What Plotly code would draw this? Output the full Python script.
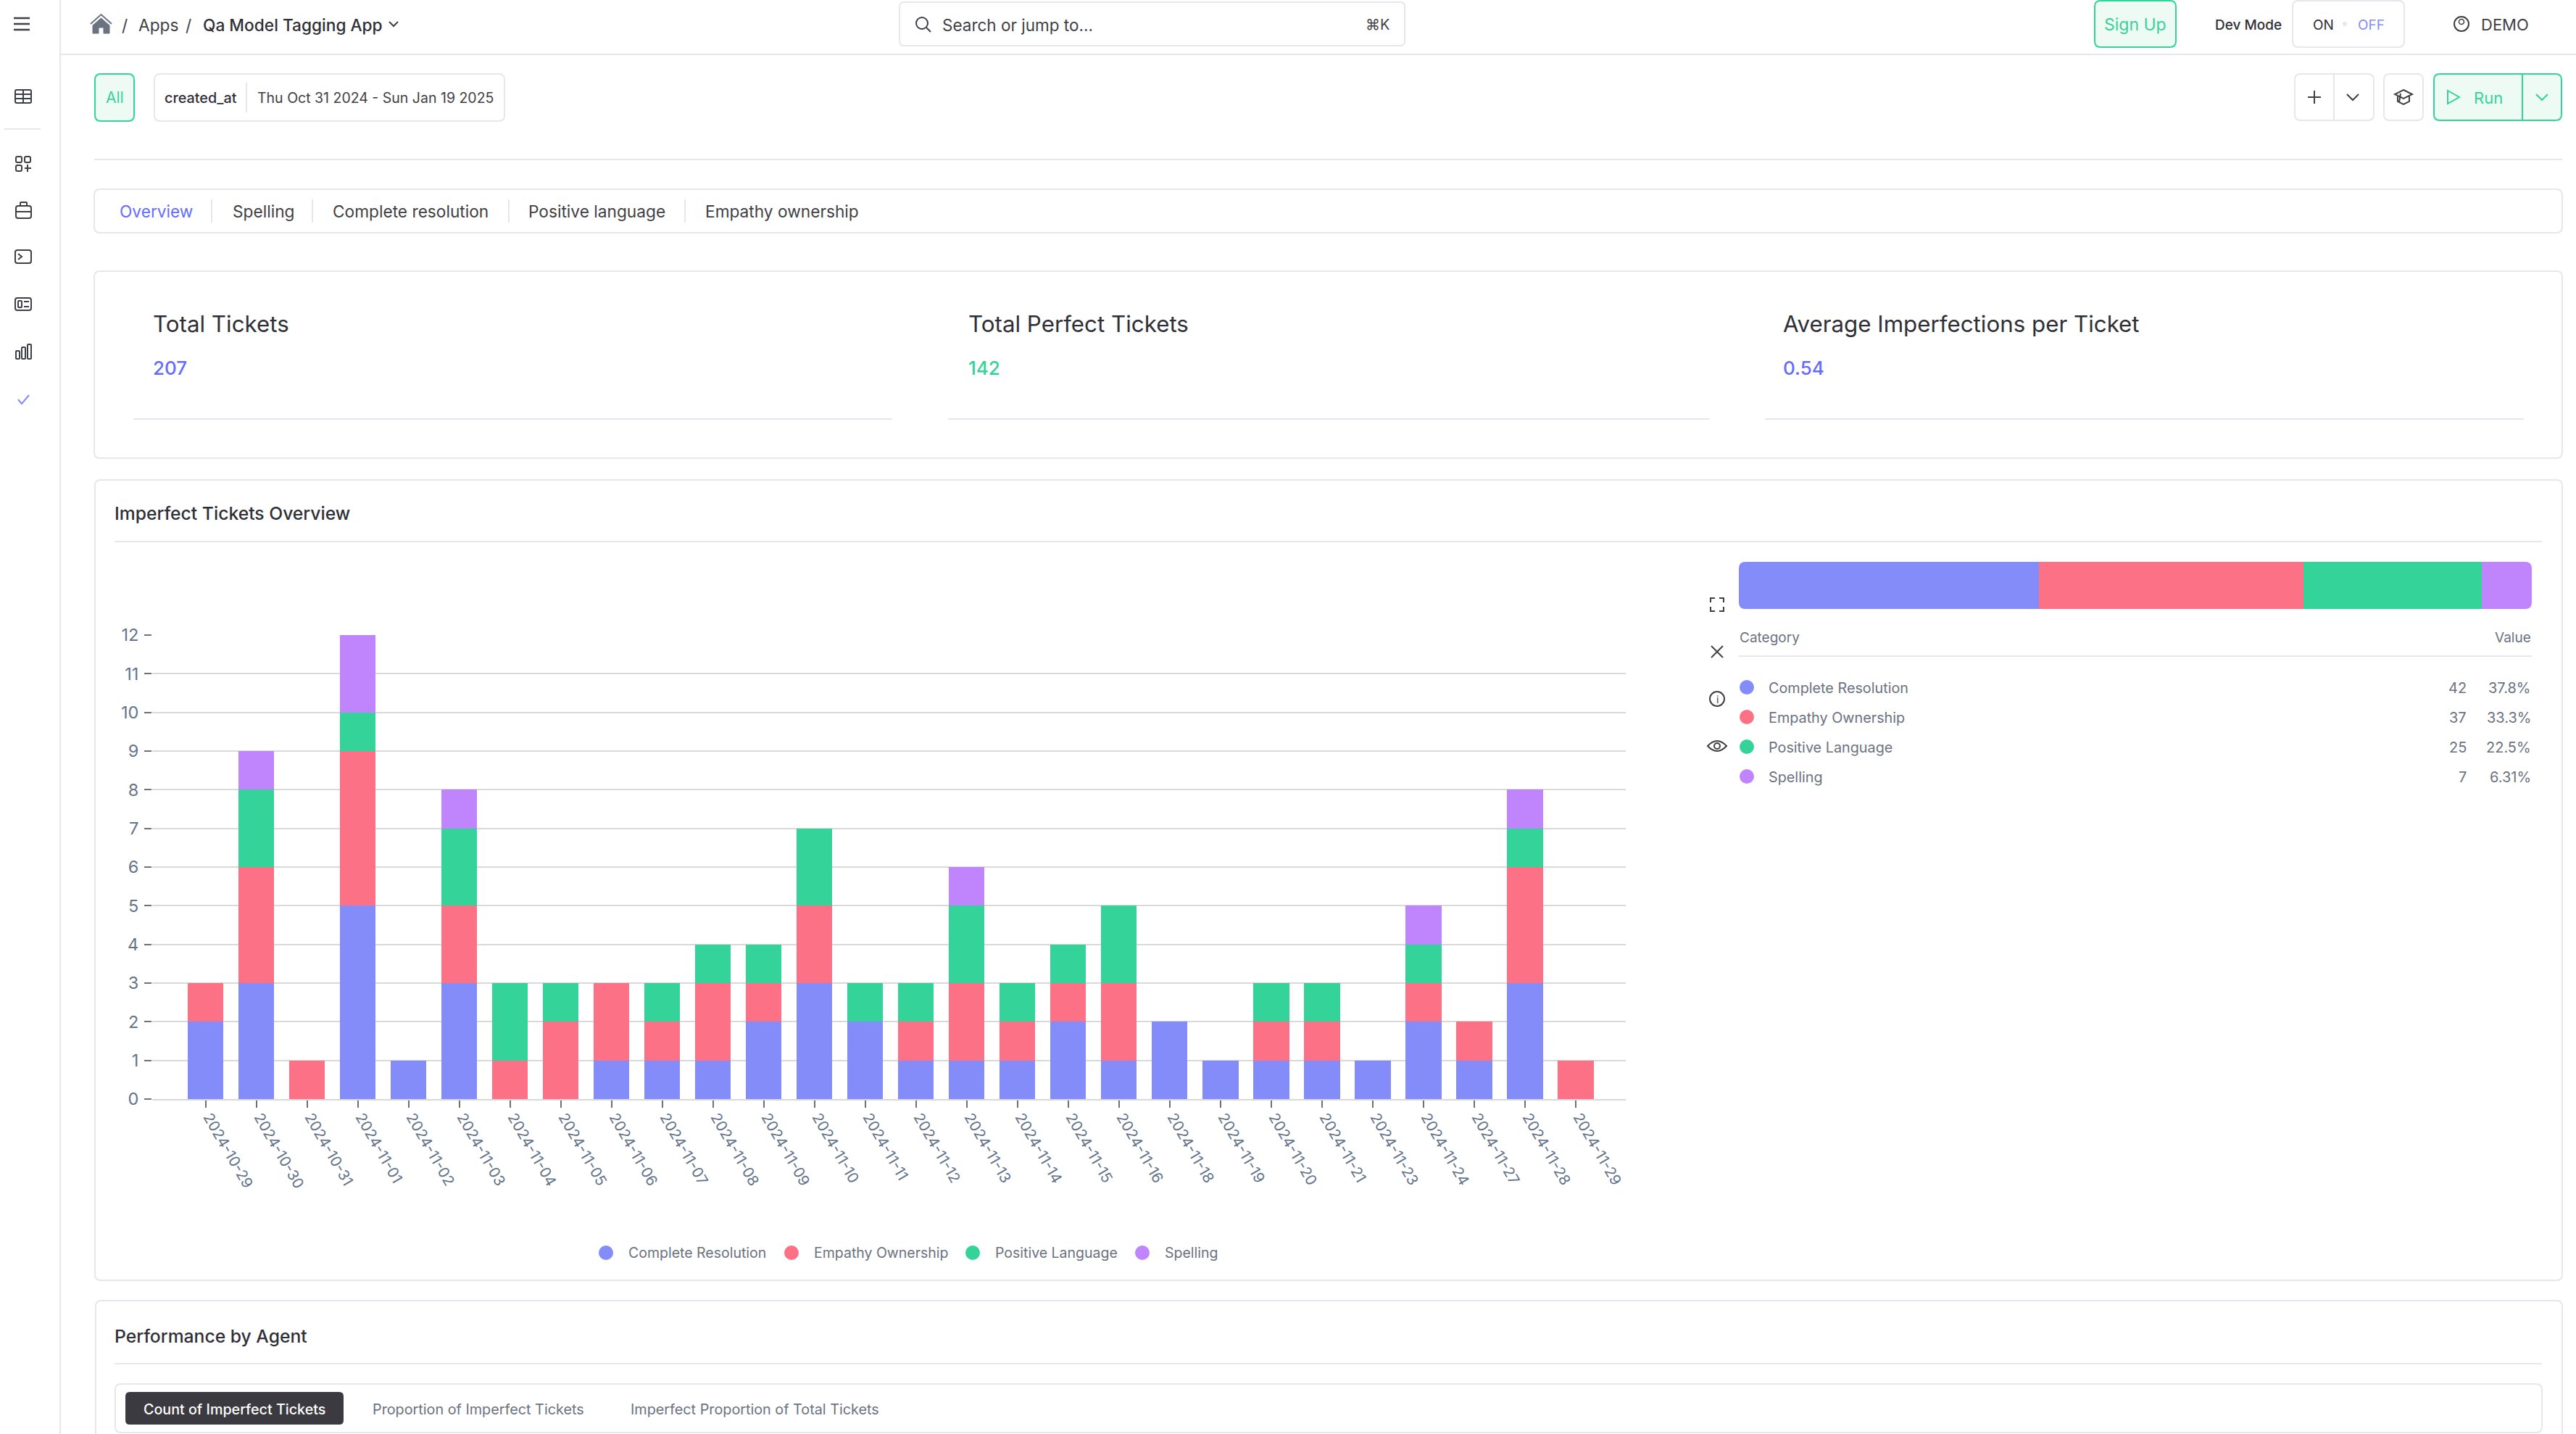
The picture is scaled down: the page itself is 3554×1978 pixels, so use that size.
"""Imperfect tickets dashboard page, rebuilt as a single Plotly figure."""
import plotly.graph_objects as go

WIDTH, HEIGHT = 3554, 1978

# chart data
dates = [
    "2024-10-29", "2024-10-30", "2024-10-31", "2024-11-01", "2024-11-02", "2024-11-03", "2024-11-04",
    "2024-11-05", "2024-11-06", "2024-11-07", "2024-11-08", "2024-11-09", "2024-11-10", "2024-11-11",
    "2024-11-12", "2024-11-13", "2024-11-14", "2024-11-15", "2024-11-16", "2024-11-18", "2024-11-19",
    "2024-11-20", "2024-11-21", "2024-11-23", "2024-11-24", "2024-11-27", "2024-11-28", "2024-11-29",
]
complete_resolution = [2, 3, 0, 5, 1, 3, 0, 0, 1, 1, 1, 2, 3, 2, 1, 1, 1, 2, 1, 2, 1, 1, 1, 1, 2, 1, 3, 0]
empathy_ownership = [1, 3, 1, 4, 0, 2, 1, 2, 2, 1, 2, 1, 2, 0, 1, 2, 1, 1, 2, 0, 0, 1, 1, 0, 1, 1, 3, 1]
positive_language = [0, 2, 0, 1, 0, 2, 2, 1, 0, 1, 1, 1, 2, 1, 1, 2, 1, 1, 2, 0, 0, 1, 1, 0, 1, 0, 1, 0]
spelling = [0, 1, 0, 2, 0, 1, 0, 0, 0, 0, 0, 0, 0, 0, 0, 1, 0, 0, 0, 0, 0, 0, 0, 0, 1, 0, 1, 0]

category_names = ["Complete Resolution", "Empathy Ownership", "Positive Language", "Spelling"]
category_totals = [42, 37, 25, 7]
category_shares = ["37.8%", "33.3%", "22.5%", "6.31%"]
category_colors = ["#838cf9", "#fd7187", "#34d399", "#c084fc"]

y_ticks = list(range(0, 13))

tab_labels = ["Overview", "Spelling", "Complete resolution", "Positive language", "Empathy ownership"]
kpi_titles = ["Total Tickets", "Total Perfect Tickets", "Average Imperfections per Ticket"]
kpi_values = ["207", "142", "0.54"]

FONT = "Inter, 'DejaVu Sans', sans-serif"
BORDER = "#e5e7eb"
INK = "#2f3037"
MUTED = "#6b7280"
AXIS_TEXT = "#64748b"
INDIGO = "#646cff"
GREEN = "#34d399"
GREEN_BG = "#eefbf5"

shapes = []
annotations = []


def px(x):
    return x / WIDTH


def py(y):
    return 1 - y / HEIGHT


def path_shape(d, fill=None, line=None, w=2):
    shape = dict(type="path", xref="paper", yref="paper", path=d, line=dict(width=0))
    if fill:
        shape["fillcolor"] = fill
    if line:
        shape["line"] = dict(color=line, width=w)
    shapes.append(shape)


def polyline(points, color=INK, w=2, close=False, fill=None):
    d = "M" + " L".join(f"{px(x):.6f},{py(y):.6f}" for x, y in points)
    path_shape(d + (" Z" if close else ""), fill=fill, line=color, w=w)


def hline(x0, x1, y, color=BORDER, w=2):
    polyline([(x0, y), (x1, y)], color, w)


def vline(x, y0, y1, color=BORDER, w=2):
    polyline([(x, y0), (x, y1)], color, w)


def rrect(x0, y0, x1, y1, r=8, fill=None, line=BORDER, w=2):
    c = lambda x, y: f"{px(x):.6f},{py(y):.6f}"
    d = (
        f"M{c(x0 + r, y0)} L{c(x1 - r, y0)} Q{c(x1, y0)} {c(x1, y0 + r)} "
        f"L{c(x1, y1 - r)} Q{c(x1, y1)} {c(x1 - r, y1)} "
        f"L{c(x0 + r, y1)} Q{c(x0, y1)} {c(x0, y1 - r)} "
        f"L{c(x0, y0 + r)} Q{c(x0, y0)} {c(x0 + r, y0)} Z"
    )
    path_shape(d, fill=fill, line=line, w=w)


def dot(cx, cy, r, fill=None, line=None, w=2):
    shape = dict(type="circle", xref="paper", yref="paper", x0=px(cx - r), x1=px(cx + r),
                 y0=py(cy + r), y1=py(cy - r), line=dict(width=0))
    if fill:
        shape["fillcolor"] = fill
    if line:
        shape["line"] = dict(color=line, width=w)
    shapes.append(shape)


def text(x, y, label, size=20, color=INK, anchor="left", weight=400):
    # annotations sit about a pixel high of the measured centre line
    annotations.append(dict(
        x=px(x), y=py(y + 1), xref="paper", yref="paper", text=label, showarrow=False,
        xanchor=anchor, yanchor="middle", borderpad=0,
        font=dict(family=FONT, size=size, color=color, weight=weight),
    ))


def chevron(cx, cy, size=7, color=INK, w=2):
    polyline([(cx - size, cy - size / 2), (cx, cy + size / 2), (cx + size, cy - size / 2)], color, w)


# page frame
vline(83, 0, HEIGHT)
hline(83, WIDTH, 75)

# sidebar icons
for y in (25, 33, 41):
    hline(19, 41, y, "#3f3f46", 2.5)
rrect(21, 124, 43, 142, 2, line="#3f3f46")
hline(21, 43, 130, "#3f3f46")
hline(21, 43, 136, "#3f3f46")
vline(32, 124, 142, "#3f3f46")
hline(6, 56, 178)
rrect(22, 216, 30, 224, 2, line="#3f3f46")
rrect(34, 216, 42, 224, 2, line="#3f3f46")
rrect(22, 228, 30, 236, 2, line="#3f3f46")
hline(34, 43, 232, "#3f3f46")
vline(38, 227, 237, "#3f3f46")
rrect(22, 284, 43, 301, 3, line="#3f3f46")
hline(22, 43, 292, "#3f3f46")
rrect(28, 279, 37, 284, 1, line="#3f3f46")
rrect(21, 345, 43, 363, 3, line="#3f3f46")
polyline([(25, 350), (30, 354), (25, 358)], "#3f3f46")
rrect(21, 411, 43, 428, 3, line="#3f3f46")
hline(33, 40, 416, "#3f3f46")
hline(33, 40, 423, "#3f3f46")
rrect(25, 415, 30, 424, 1, line="#3f3f46")
rrect(22, 484, 27, 495, 1, line="#3f3f46")
rrect(30, 479, 35, 495, 1, line="#3f3f46")
rrect(38, 475, 43, 495, 1, line="#3f3f46")
polyline([(25, 551), (30, 557), (40, 545)], "#838cf9")

# top bar
polyline([(125, 33), (139.5, 20), (154, 33)], "#6b7280", 2)
polyline([(128, 35), (139.5, 25), (151, 35), (151, 46), (143, 46), (143, 38), (136, 38), (136, 46), (128, 46)],
         "#6b7280", 1, close=True, fill="#6b7280")
text(172, 33, "/", 22.7, "#3f3f46", "center")
text(190, 33, "Apps", 22.7, "#3f3f46")
text(260, 33, "/", 22.7, "#3f3f46", "center")
text(279, 33, "Qa Model Tagging App", 22.7, INK, weight=500)
chevron(543, 33, 6, "#3f3f46")

rrect(1241, 3, 1938, 63, 6)
dot(1272, 32, 8, line="#3f3f46")
polyline([(1278, 38), (1284, 44)], "#3f3f46")
text(1299, 33, "Search or jump to...", 22.5, "#3f3f46")
text(1918, 33, "⌘K", 20, "#3f3f46", "right")

rrect(2890, 1, 3002, 65, 8, GREEN_BG, GREEN)
text(2946, 33, "Sign Up", 23, GREEN, "center")
text(3055, 33, "Dev Mode", 19, INK, weight=500)
rrect(3163, 1, 3317, 65, 8)
text(3190, 33, "ON", 19, INK)
dot(3235, 33, 3, fill=BORDER)
text(3252, 33, "OFF", 19, "#838cf9")
dot(3396, 33, 10, line="#3f3f46")
dot(3396, 30, 3.5, line="#3f3f46", w=1.5)
text(3422, 33, "DEMO", 22, "#3f3f46")

# filter row
rrect(131, 102, 185, 167, 8, GREEN_BG, GREEN)
text(158, 134, "All", 21, GREEN, "center")
rrect(213, 102, 696, 167, 8)
text(226, 134, "created_at", 19.8, INK, weight=500)
vline(340, 114, 155)
text(354, 134, "Thu Oct 31 2024 - Sun Jan 19 2025", 19.5, "#3f3f46")

rrect(3166, 102, 3275, 166, 8)
vline(3220, 102, 166)
hline(3184, 3202, 134, "#3f3f46")
vline(3193, 125, 143, "#3f3f46")
chevron(3246, 134, 8, "#3f3f46")
rrect(3289, 102, 3343, 166, 8)
polyline([(3316, 124), (3328, 130), (3316, 136), (3304, 130)], "#3f3f46", close=True)
polyline([(3308, 133), (3308, 140), (3316, 144), (3324, 140), (3324, 133)], "#3f3f46")
polyline([(3312, 129), (3310, 141)], "#3f3f46")
rrect(3358, 102, 3534, 166, 8, GREEN_BG, GREEN)
vline(3480, 102, 166, GREEN)
polyline([(3377, 125), (3393, 134), (3377, 143)], GREEN, close=True)
text(3412, 134, "Run", 22, GREEN)
chevron(3507, 134, 8, GREEN)

hline(130, 3535, 220)

# tabs
rrect(130, 261, 3535, 321, 8)
tab_x = [164, 320, 458, 728, 972]
for name, x in zip(tab_labels, tab_x):
    text(x, 291, name, 22.7, INDIGO if name == "Overview" else "#3f3f46")
for x in (292, 431, 702, 945):
    vline(x, 275, 307)

# KPI card
rrect(130, 374, 3535, 632, 8)
kpi_x = [210, 1335, 2459]
kpi_colors = [INDIGO, GREEN, INDIGO]
for title, value, x, color in zip(kpi_titles, kpi_values, kpi_x, kpi_colors):
    text(x, 446, title, 31.3, INK)
    text(x, 506, value, 26, color, weight=500)
for x0, x1 in ((184, 1231), (1308, 2358), (2435, 3482)):
    hline(x0, x1, 578)

# chart card
rrect(131, 662, 3535, 1766, 8)
text(157, 707, "Imperfect Tickets Overview", 24.7, INK, weight=500)
hline(158, 3507, 747)

# custom legend under the stacked bars
legend_dot_x = [836, 1092, 1342, 1576]
for name, x, color in zip(category_names, legend_dot_x, category_colors):
    dot(x, 1728, 10, fill=color)
    text(x + 30, 1727, name, 19.5, MUTED)

# breakdown table
text(2399, 878, "Category", 19, MUTED)
text(3493, 878, "Value", 19, MUTED, "right")
hline(2399, 3493, 905)
row_y = [948, 989, 1030, 1071]
for name, total, share, color, y in zip(category_names, category_totals, category_shares, category_colors, row_y):
    dot(2410, y, 10, fill=color)
    text(2439, y, name, 19.8, MUTED)
    text(3404, y, str(total), 20, MUTED, "right")
    text(3493, y, share, 20, MUTED, "right")

# little tool icons beside the table
for sx, sy in ((-1, -1), (1, -1), (-1, 1), (1, 1)):
    polyline([(2369 + sx * 9, 834 + sy * 3), (2369 + sx * 9, 834 + sy * 9), (2369 + sx * 3, 834 + sy * 9)], "#3f3f46")
polyline([(2361, 891), (2377, 907)], "#3f3f46")
polyline([(2377, 891), (2361, 907)], "#3f3f46")
dot(2369, 964, 10, line="#3f3f46")
text(2369, 963, "i", 14, "#3f3f46", "center")
dot(2369, 1029, 4, line="#3f3f46")
c = lambda x, y: f"{px(x):.6f},{py(y):.6f}"
path_shape(f"M{c(2356, 1029)} Q{c(2369, 1015)} {c(2382, 1029)} Q{c(2369, 1043)} {c(2356, 1029)} Z", line="#3f3f46")

# next card, cut off by the bottom of the window
hline(158, 3507, 1881)
text(157, 1842, "Performance by Agent", 24.7, INK, weight=500)
rrect(132, 1794, 3535, HEIGHT + 20, 8)
rrect(159, 1909, 3507, 1976, 8)
rrect(173, 1920, 474, 1965, 6, "#3a3a40", None)
text(323, 1943, "Count of Imperfect Tickets", 19.7, "#ffffff", "center", 500)
text(513, 1943, "Proportion of Imperfect Tickets", 19.8, MUTED)
text(869, 1943, "Imperfect Proportion of Total Tickets", 19.8, MUTED)

# round off the ends of the proportion bar, white corner masks drawn above it
BAR_L, BAR_R, BAR_T, BAR_B = 2399, 3493, 775, 840
for cx, cy, dx, dy in ((BAR_L, BAR_T, 1, 1), (BAR_R, BAR_T, -1, 1), (BAR_L, BAR_B, 1, -1), (BAR_R, BAR_B, -1, -1)):
    r = 9
    path_shape(f"M{c(cx, cy)} L{c(cx + dx * r, cy)} Q{c(cx, cy)} {c(cx, cy + dy * r)} Z", fill="#ffffff")

fig = go.Figure()

series = [complete_resolution, empathy_ownership, positive_language, spelling]
for name, values, color in zip(category_names, series, category_colors):
    fig.add_trace(go.Bar(x=dates, y=values, name=name, width=0.71, marker=dict(color=color, line=dict(width=0))))

for name, total, color in zip(category_names, category_totals, category_colors):
    fig.add_trace(go.Bar(x=[total], y=["share"], name=name, orientation="h", width=1, xaxis="x2", yaxis="y2",
                         marker=dict(color=color, line=dict(width=0)), showlegend=False))

fig.update_layout(
    width=WIDTH,
    height=HEIGHT,
    margin=dict(l=0, r=0, t=0, b=0),
    autosize=False,
    paper_bgcolor="#ffffff",
    plot_bgcolor="rgba(0,0,0,0)",
    barmode="stack",
    showlegend=False,
    shapes=shapes,
    annotations=annotations,
    font=dict(family=FONT),
    xaxis=dict(
        domain=[px(210), px(2243)], anchor="y", type="category", categoryorder="array", categoryarray=dates,
        automargin=False,
        range=[-1.05, 27.99], showgrid=False, zeroline=False, showline=True, linecolor="#d9d9d9", linewidth=2,
        ticks="outside", ticklen=10, tickwidth=2, tickcolor="#6e7079", tickangle=60, ticklabelstandoff=-7,
        ticklabelshift=5,
        tickfont=dict(family=FONT, size=20.5, color=AXIS_TEXT),
    ),
    yaxis=dict(
        domain=[py(1516), py(876)], anchor="x", range=[0, 12], tickvals=y_ticks, showgrid=True,
        automargin=False,
        gridcolor="#d9d9d9", gridwidth=2, zeroline=False, showline=False, ticks="outside", ticklen=10,
        tickwidth=2, tickcolor="#6e7079", ticklabelstandoff=3,
        tickfont=dict(family=FONT, size=23.5, color=AXIS_TEXT),
    ),
    xaxis2=dict(domain=[px(BAR_L), px(BAR_R)], anchor="y2", range=[0, sum(category_totals)], visible=False,
                automargin=False),
    yaxis2=dict(domain=[py(BAR_B), py(BAR_T)], anchor="x2", type="category", range=[-0.5, 0.5], visible=False,
                automargin=False),
)

fig.write_html(
    "out.html",
    config=dict(displayModeBar=False),
    post_script="document.body.style.margin='0';document.body.style.overflow='hidden';",
)
